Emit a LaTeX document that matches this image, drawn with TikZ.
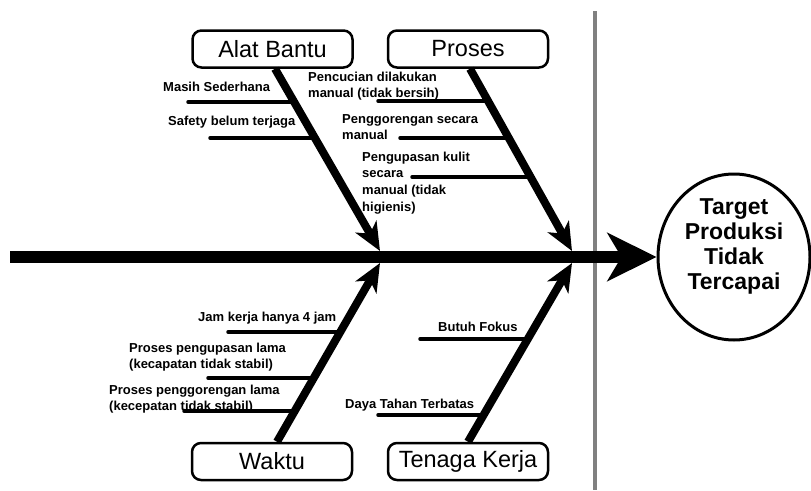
\documentclass[tikz,border=0pt]{standalone}
\usepackage{fontspec}
\setmainfont{Liberation Sans}
\usetikzlibrary{arrows.meta,shapes.geometric}
\tikzset{
  catbox/.style={draw, line width=2.5pt, rounded corners=9pt, minimum width=160pt, minimum height=37pt, inner sep=0pt, font=\fontsize{23.5}{26}\selectfont},
  bone/.style={line width=8pt, -{Stealth[length=28pt,width=24pt,inset=8pt]}},
  spine/.style={line width=12pt, -{Stealth[length=49pt,width=48pt,inset=14pt]}},
  sub/.style={line width=3.5pt, line cap=round},
  lab/.style={inner sep=0pt, font=\bfseries\fontsize{13}{16}\selectfont},
  mlab/.style={lab, align=left, anchor=north west},
  target/.style={draw, ellipse, line width=3pt, minimum width=152pt, minimum height=166pt, inner sep=0pt},
  targettext/.style={inner sep=0pt, align=center, font=\bfseries\fontsize{23}{25}\selectfont},
}
\begin{document}
\begin{tikzpicture}[x=1pt,y=-1pt]
\useasboundingbox[fill=white] (0,0) rectangle (811,490);

% gray separator
\draw[line width=4pt, color={rgb,255:red,128;green,128;blue,128}] (595,11) -- (595,490);

% category boxes
\node[catbox] (ab) at (272.5,49) {Alat Bantu};
\node[catbox] (pr) at (468,49) {Proses};
\node[catbox] (wk) at (272,461.5) {Waktu};
\node[catbox] (tk) at (468,461.5) {Tenaga Kerja};

% effect
\node[target] (tg) at (734,257) {};
\node[targettext] (tgt) at (734,246) {Target\\Produksi\\Tidak\\Tercapai};

% spine
\coordinate (sp0) at (10,257);
\draw[spine] (sp0) -- (tg.west);

% bone tips
\coordinate (abT) at (380,251);
\coordinate (prT) at (572,251);
\coordinate (wkT) at (380,263);
\coordinate (tkT) at (572,263);

% sub-branch lines (drawn first)
\coordinate (m1a) at (188,102); \coordinate (m1b) at (294,102);
\coordinate (m2a) at (210,138); \coordinate (m2b) at (315,138);
\coordinate (p1a) at (378,101); \coordinate (p1b) at (488,101);
\coordinate (p2a) at (400,138); \coordinate (p2b) at (509,138);
\coordinate (p3a) at (412,177); \coordinate (p3b) at (530,177);
\coordinate (w1a) at (228,332); \coordinate (w1b) at (340,332);
\coordinate (w2a) at (208,378); \coordinate (w2b) at (314,378);
\coordinate (w3a) at (184,411); \coordinate (w3b) at (295,411);
\coordinate (t1a) at (420,339); \coordinate (t1b) at (528,339);
\coordinate (t2a) at (378,415); \coordinate (t2b) at (484,415);
\foreach \s in {m1,m2,p1,p2,p3,w1,w2,w3,t1,t2}
  \draw[sub] (\s a) -- (\s b);

% bones
\draw[bone] ([xshift=2.5pt]ab.south) -- (abT);
\draw[bone] ([xshift=2pt]pr.south) -- (prT);
\draw[bone] ([xshift=5pt]wk.north) -- (wkT);
\draw[bone] (tk.north) -- (tkT);

% labels
\node[lab, anchor=base west] (l1) at (163,91.5) {Masih Sederhana};
\node[lab, anchor=base west] (l2) at (168,125) {Safety belum terjaga};
\node[mlab] (l3) at (308,71.5) {Pencucian dilakukan\\manual (tidak bersih)};
\node[mlab] (l4) at (342,114.5) {Penggorengan secara\\manual};
\node[mlab, font=\bfseries\fontsize{13}{16.8}\selectfont] (l5) at (362,151.5) {Pengupasan kulit\\secara\\manual (tidak\\higienis)};
\node[lab, anchor=base west] (l6) at (198,321.5) {Jam kerja hanya 4 jam};
\node[mlab] (l7) at (129,342.5) {Proses pengupasan lama\\(kecapatan tidak stabil)};
\node[mlab] (l8) at (109,384.5) {Proses penggorengan lama\\(kecepatan tidak stabil)};
\node[lab, anchor=base west] (l9) at (438,331.5) {Butuh Fokus};
\node[lab, anchor=base west] (l10) at (345,408.5) {Daya Tahan Terbatas};
\end{tikzpicture}
\end{document}
